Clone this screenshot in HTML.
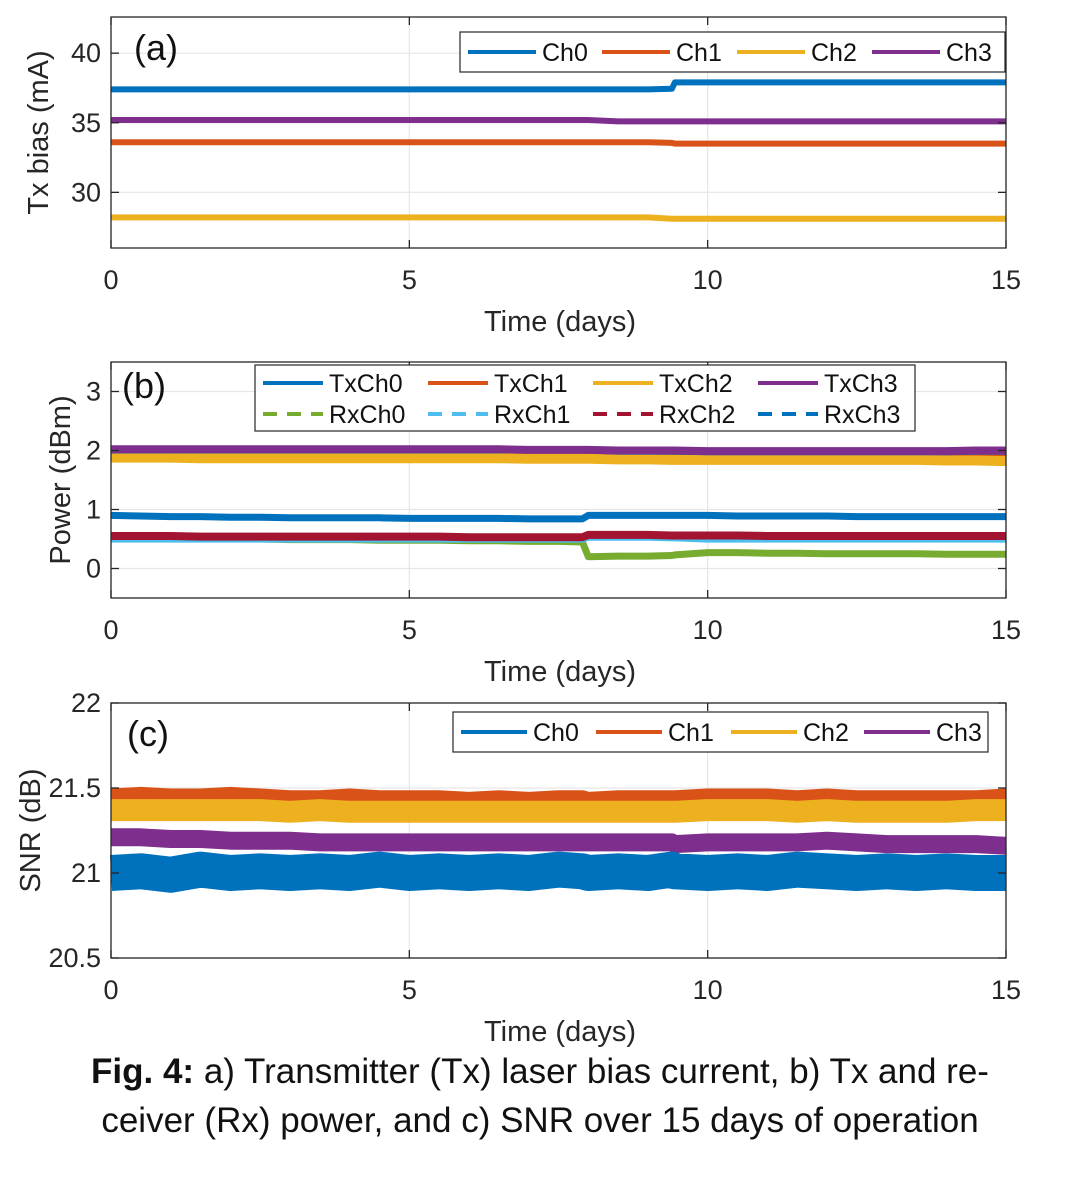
<!DOCTYPE html>
<html><head><meta charset="utf-8">
<style>
html,body{margin:0;padding:0;background:#fff;}
body{width:1080px;height:1172px;position:relative;overflow:hidden;font-family:"Liberation Sans",Arial,sans-serif;}
svg text{font-family:"Liberation Sans",Arial,sans-serif;}
.cap{position:absolute;left:0;width:1080px;text-align:center;font-size:35px;color:#111;}
</style></head>
<body>
<svg id="chart" width="1080" height="1172" xmlns="http://www.w3.org/2000/svg"></svg>
<div class="cap" style="top:1052px"><b>Fig. 4:</b> a) Transmitter (Tx) laser bias current, b) Tx and re-</div>
<div class="cap" style="top:1101px">ceiver (Rx) power, and c) SNR over 15 days of operation</div>
<script>
// ---- data ----
const days = [0,0.5,1,1.5,2,2.5,3,3.5,4,4.5,5,5.5,6,6.5,7,7.5,7.9,8.0,8.5,9,9.4,9.45,10,10.5,11,11.5,12,12.5,13,13.5,14,14.5,15];
const xTicks = [0,5,10,15];
// (a) Tx bias (mA)
const biasCh0 = [37.4,37.4,37.4,37.4,37.4,37.4,37.4,37.4,37.4,37.4,37.4,37.4,37.4,37.4,37.4,37.4,37.4,37.4,37.4,37.4,37.45,37.9,37.9,37.9,37.9,37.9,37.9,37.9,37.9,37.9,37.9,37.9,37.9];
const biasCh1 = [33.6,33.6,33.6,33.6,33.6,33.6,33.6,33.6,33.6,33.6,33.6,33.6,33.6,33.6,33.6,33.6,33.6,33.6,33.6,33.6,33.55,33.5,33.5,33.5,33.5,33.5,33.5,33.5,33.5,33.5,33.5,33.5,33.5];
const biasCh2 = [28.2,28.2,28.2,28.2,28.2,28.2,28.2,28.2,28.2,28.2,28.2,28.2,28.2,28.2,28.2,28.2,28.2,28.2,28.2,28.2,28.1,28.1,28.1,28.1,28.1,28.1,28.1,28.1,28.1,28.1,28.1,28.1,28.1];
const biasCh3 = [35.2,35.2,35.2,35.2,35.2,35.2,35.2,35.2,35.2,35.2,35.2,35.2,35.2,35.2,35.2,35.2,35.2,35.2,35.1,35.1,35.1,35.1,35.1,35.1,35.1,35.1,35.1,35.1,35.1,35.1,35.1,35.1,35.1];
const biasTicks = [30,35,40];
// (b) Power (dBm)
const txCh0 = [0.9,0.89,0.88,0.88,0.87,0.87,0.86,0.86,0.86,0.86,0.85,0.85,0.85,0.85,0.84,0.84,0.84,0.9,0.9,0.9,0.9,0.9,0.9,0.89,0.89,0.89,0.89,0.88,0.88,0.88,0.88,0.88,0.88];
const txCh1 = [1.95,1.95,1.95,1.95,1.95,1.95,1.95,1.95,1.95,1.95,1.95,1.95,1.95,1.95,1.95,1.95,1.95,1.95,1.95,1.94,1.94,1.94,1.93,1.93,1.93,1.93,1.93,1.93,1.93,1.93,1.93,1.93,1.93];
const txCh2 = [1.88,1.88,1.88,1.87,1.87,1.87,1.87,1.87,1.87,1.87,1.87,1.87,1.87,1.87,1.86,1.86,1.86,1.86,1.85,1.85,1.84,1.84,1.84,1.84,1.84,1.84,1.84,1.84,1.84,1.84,1.83,1.83,1.82];
const txCh3 = [2.02,2.02,2.02,2.02,2.02,2.02,2.02,2.02,2.02,2.02,2.02,2.02,2.02,2.02,2.01,2.01,2.01,2.01,2.0,2.0,2.0,2.0,1.99,1.99,1.99,1.99,1.99,1.99,1.99,1.99,1.99,2.0,2.0];
const rxCh0 = [0.5,0.5,0.5,0.5,0.5,0.5,0.49,0.49,0.49,0.48,0.48,0.48,0.47,0.47,0.46,0.46,0.45,0.2,0.21,0.21,0.22,0.23,0.27,0.27,0.26,0.26,0.25,0.25,0.25,0.25,0.24,0.24,0.24];
const rxCh1 = [0.49,0.49,0.49,0.49,0.49,0.49,0.49,0.49,0.49,0.49,0.49,0.49,0.49,0.49,0.49,0.49,0.49,0.52,0.52,0.52,0.51,0.51,0.49,0.49,0.49,0.49,0.49,0.49,0.49,0.49,0.49,0.49,0.49];
const rxCh2 = [0.55,0.55,0.55,0.54,0.54,0.54,0.54,0.54,0.54,0.54,0.54,0.54,0.53,0.53,0.53,0.53,0.53,0.57,0.57,0.57,0.56,0.56,0.56,0.56,0.55,0.55,0.55,0.55,0.55,0.55,0.55,0.55,0.55];
const rxCh3 = [2.0,2.0,2.0,2.0,2.0,2.0,2.0,2.0,2.0,2.0,2.0,2.0,2.0,2.0,2.0,2.0,2.0,2.0,1.98,1.98,1.98,1.98,1.97,1.97,1.97,1.97,1.97,1.97,1.97,1.97,1.97,1.98,1.98];
const powerTicks = [0,1,2,3];
// (c) SNR (dB)
const snrCh0 = [21.0,21.01,20.99,21.02,21.0,21.01,21.0,21.01,21.0,21.02,21.0,21.01,21.0,21.01,21.0,21.02,21.01,21.0,21.01,21.0,21.02,21.01,21.0,21.01,21.0,21.02,21.01,21.0,21.01,21.0,21.01,21.0,21.0];
const snrCh1 = [21.45,21.46,21.45,21.45,21.46,21.45,21.44,21.44,21.45,21.44,21.44,21.44,21.43,21.44,21.43,21.44,21.44,21.43,21.44,21.44,21.44,21.44,21.45,21.45,21.45,21.44,21.45,21.44,21.44,21.44,21.44,21.44,21.45];
const snrCh2 = [21.37,21.37,21.37,21.37,21.37,21.37,21.36,21.37,21.36,21.36,21.36,21.36,21.36,21.36,21.36,21.36,21.36,21.36,21.36,21.36,21.36,21.36,21.37,21.37,21.37,21.36,21.37,21.36,21.36,21.36,21.36,21.37,21.37];
const snrCh3 = [21.21,21.21,21.2,21.2,21.19,21.19,21.19,21.18,21.18,21.18,21.18,21.18,21.18,21.18,21.18,21.18,21.18,21.18,21.18,21.18,21.18,21.17,21.18,21.18,21.18,21.18,21.19,21.18,21.17,21.17,21.17,21.17,21.16];
const snrTicks = ['20.5','21','21.5','22'];

const C = {b:'#0072BD', o:'#D95319', y:'#EDB120', p:'#7E2F8E', g:'#77AC30', lb:'#4DBEEE', r:'#A2142F'};
const svg = document.getElementById('chart');
const NS = 'http://www.w3.org/2000/svg';
function mk(tag, attrs, parent){const e=document.createElementNS(NS,tag);for(const k in attrs)e.setAttribute(k,attrs[k]);(parent||svg).appendChild(e);return e;}

function panel(cfg){
  const g = mk('g',{});
  
  
  const L=111,R=1006,T=cfg.top,B=cfg.bottom;
  const sx = v => L + (v-0)/(15-0)*(R-L);
  const sy = v => B - (v-cfg.ymin)/(cfg.ymax-cfg.ymin)*(B-T);
  xTicks.forEach(t=>{const l=mk('line',{x1:sx(t),x2:sx(t),y1:T,y2:B,stroke:'#e6e6e6','stroke-width':1.2},g);
    });
  cfg.yTicks.forEach(t=>{const l=mk('line',{x1:L,x2:R,y1:sy(+t),y2:sy(+t),stroke:'#e6e6e6','stroke-width':1.2},g);
    });
  cfg.series.forEach(s=>{
    const d = days.map((x,i)=>(i?'L':'M')+sx(x).toFixed(1)+','+sy(s.v[i]).toFixed(1)).join('');
    const p = mk('path',{d:d,fill:'none',stroke:s.c,'stroke-width':s.w,'stroke-linejoin':'round'},g);
    
    
  });
  const box = mk('rect',{x:L,y:T,width:R-L,height:B-T,fill:'none',stroke:'#262626','stroke-width':1.3},g);
  
  xTicks.forEach(t=>{
    mk('line',{x1:sx(t),x2:sx(t),y1:B,y2:B-8,stroke:'#262626','stroke-width':1.3},g);
    mk('line',{x1:sx(t),x2:sx(t),y1:T,y2:T+8,stroke:'#262626','stroke-width':1.3},g);
    const tx=mk('text',{x:sx(t),y:B+41,'font-size':27,'text-anchor':'middle',fill:'#262626'},g);tx.textContent=t;
    
  });
  cfg.yTicks.forEach(t=>{
    mk('line',{x1:L,x2:L+8,y1:sy(+t),y2:sy(+t),stroke:'#262626','stroke-width':1.3},g);
    mk('line',{x1:R,x2:R-8,y1:sy(+t),y2:sy(+t),stroke:'#262626','stroke-width':1.3},g);
    const tx=mk('text',{x:L-10,y:sy(+t)+9,'font-size':27,'text-anchor':'end',fill:'#262626'},g);tx.textContent=t;
    
  });
  const xl=mk('text',{x:560,y:B+83,'font-size':29,'text-anchor':'middle',fill:'#262626'},g);xl.textContent='Time (days)';
  
  const yc=(T+B)/2;
  const yl=mk('text',{x:cfg.ylx,y:yc,'font-size':29,'text-anchor':'middle',fill:'#262626',transform:`rotate(-90 ${cfg.ylx} ${yc})`},g);yl.textContent=cfg.ylabel;
  
  const pl=mk('text',{x:cfg.plx,y:cfg.ply,'font-size':36,fill:'#111'},g);pl.textContent=cfg.plabel;
  
  const lg=mk('g',{},g);
  
  
  mk('rect',{x:cfg.leg.x,y:cfg.leg.y,width:cfg.leg.w,height:cfg.leg.h,fill:'#fff',stroke:'#262626','stroke-width':1.2},lg);
  cfg.leg.items.forEach(it=>{
    const e=mk('g',{},lg);
    
    
    mk('line',{x1:it.x,x2:it.x+cfg.leg.ll,y1:it.y,y2:it.y,stroke:it.c,'stroke-width':4,'stroke-dasharray':it.dash?'14 10':'none'},e);
    const t=mk('text',{x:it.x+cfg.leg.ll+6,y:it.y+9,'font-size':25,fill:'#111'},e);t.textContent=it.t;
  });
}

panel({name:'panel-a-tx-bias',top:17,bottom:248,ymin:26,ymax:42.6,yTicks:biasTicks,ylabel:'Tx bias (mA)',ylx:48,plabel:'(a)',plx:134,ply:60,
  series:[{id:'bias-ch2',v:biasCh2,c:C.y,w:6},{id:'bias-ch1',v:biasCh1,c:C.o,w:6},{id:'bias-ch3',v:biasCh3,c:C.p,w:6},{id:'bias-ch0',v:biasCh0,c:C.b,w:6}],
  leg:{x:460,y:32,w:545,h:40,ll:68,items:[{x:468,y:52,c:C.b,t:'Ch0'},{x:602,y:52,c:C.o,t:'Ch1'},{x:737,y:52,c:C.y,t:'Ch2'},{x:872,y:52,c:C.p,t:'Ch3'}]}});

panel({name:'panel-b-power',top:362,bottom:598,ymin:-0.5,ymax:3.5,yTicks:powerTicks,ylabel:'Power (dBm)',ylx:70,plabel:'(b)',plx:122,ply:398,
  series:[{id:'tx-ch1',v:txCh1,c:C.o,w:6},{id:'tx-ch2',v:txCh2,c:C.y,w:10},{id:'rx-ch3',v:rxCh3,c:'#0072BD',w:6},{id:'tx-ch3',v:txCh3,c:C.p,w:8},
    {id:'tx-ch0',v:txCh0,c:C.b,w:7},{id:'rx-ch0',v:rxCh0,c:C.g,w:7},{id:'rx-ch1',v:rxCh1,c:C.lb,w:6},{id:'rx-ch2',v:rxCh2,c:C.r,w:8}],
  leg:{x:255,y:365,w:660,h:66,ll:60,items:[
    {x:263,y:383,c:C.b,t:'TxCh0'},{x:428,y:383,c:C.o,t:'TxCh1'},{x:593,y:383,c:C.y,t:'TxCh2'},{x:758,y:383,c:C.p,t:'TxCh3'},
    {x:263,y:414,c:C.g,t:'RxCh0',dash:1},{x:428,y:414,c:C.lb,t:'RxCh1',dash:1},{x:593,y:414,c:C.r,t:'RxCh2',dash:1},{x:758,y:414,c:C.b,t:'RxCh3',dash:1}]}});

panel({name:'panel-c-snr',top:703,bottom:958,ymin:20.5,ymax:22,yTicks:snrTicks,ylabel:'SNR (dB)',ylx:40,plabel:'(c)',plx:127,ply:746,
  series:[{id:'snr-ch1',v:snrCh1,c:C.o,w:16},{id:'snr-ch2',v:snrCh2,c:C.y,w:22},{id:'snr-ch3',v:snrCh3,c:C.p,w:18},{id:'snr-ch0',v:snrCh0,c:C.b,w:36}],
  leg:{x:453,y:712,w:535,h:40,ll:66,items:[{x:461,y:732,c:C.b,t:'Ch0'},{x:596,y:732,c:C.o,t:'Ch1'},{x:731,y:732,c:C.y,t:'Ch2'},{x:864,y:732,c:C.p,t:'Ch3'}]}});
</script>
</body></html>
